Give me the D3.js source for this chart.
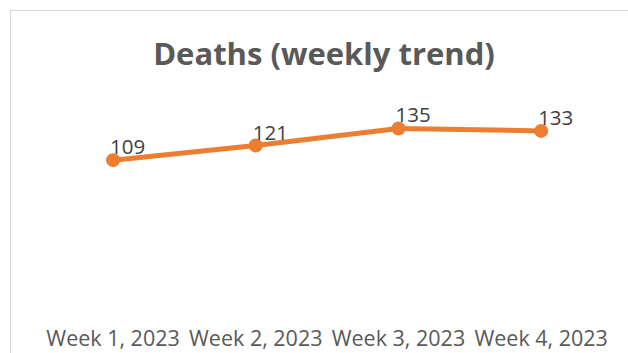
<!DOCTYPE html>
<html>
<head>
<meta charset="utf-8">
<script src="https://cdn.jsdelivr.net/npm/d3@7"></script>
<style>
  html, body { margin: 0; padding: 0; background: #fff; }
  svg { display: block; }
</style>
</head>
<body>
<svg id="chart" width="628" height="353"></svg>
<script>
// Weekly death counts
const weeks = ["Week 1, 2023", "Week 2, 2023", "Week 3, 2023", "Week 4, 2023"];
const deaths = [109, 121, 135, 133];
const chartTitle = "Deaths (weekly trend)";

const width = 628, height = 353;
const svg = d3.select("#chart");
const font = "'Open Sans', sans-serif";

// chart frame (extends past the right and bottom edges)
svg.append("rect")
  .attr("x", 10.5).attr("y", 10.5)
  .attr("width", 660).attr("height", 380)
  .attr("fill", "#fff")
  .attr("stroke", "#d9d9d9").attr("stroke-width", 1);

// title
svg.append("text")
  .attr("x", 324).attr("y", 65)
  .attr("text-anchor", "middle")
  .attr("font-family", font)
  .attr("font-weight", "bold")
  .attr("font-size", 31)
  .attr("fill", "#595959")
  .text(chartTitle);

const x = d3.scaleBand().domain(weeks).range([41.7, 612.5]);
const y = d3.scaleLinear().domain([0, 160]).range([293, 98]);
const cx = d => x(d) + x.bandwidth() / 2;

// category axis labels
const xAxis = d3.axisBottom(x).tickSize(0).tickPadding(0);
const gx = svg.append("g").attr("transform", "translate(0,331)").call(xAxis);
gx.select(".domain").remove();
gx.selectAll("text")
  .attr("dy", "0.71em")
  .attr("font-family", font)
  .attr("font-size", 21.5)
  .attr("fill", "#595959");

const pts = weeks.map((w, i) => ({ week: w, value: deaths[i] }));

// line
svg.append("path")
  .datum(pts)
  .attr("fill", "none")
  .attr("stroke", "#ED7D31")
  .attr("stroke-width", 5)
  .attr("stroke-linejoin", "round")
  .attr("d", d3.line().x(d => cx(d.week)).y(d => y(d.value)));

// markers
svg.selectAll("circle.marker")
  .data(pts).enter().append("circle")
  .attr("class", "marker")
  .attr("cx", d => cx(d.week))
  .attr("cy", d => y(d.value))
  .attr("r", 7)
  .attr("fill", "#ED7D31");

// data labels
svg.selectAll("text.label")
  .data(pts).enter().append("text")
  .attr("class", "label")
  .attr("x", d => cx(d.week) - 3)
  .attr("y", d => y(d.value) - 6)
  .attr("font-family", font)
  .attr("font-size", 20.5)
  .attr("fill", "#404040")
  .text(d => d.value);
</script>
</body>
</html>
